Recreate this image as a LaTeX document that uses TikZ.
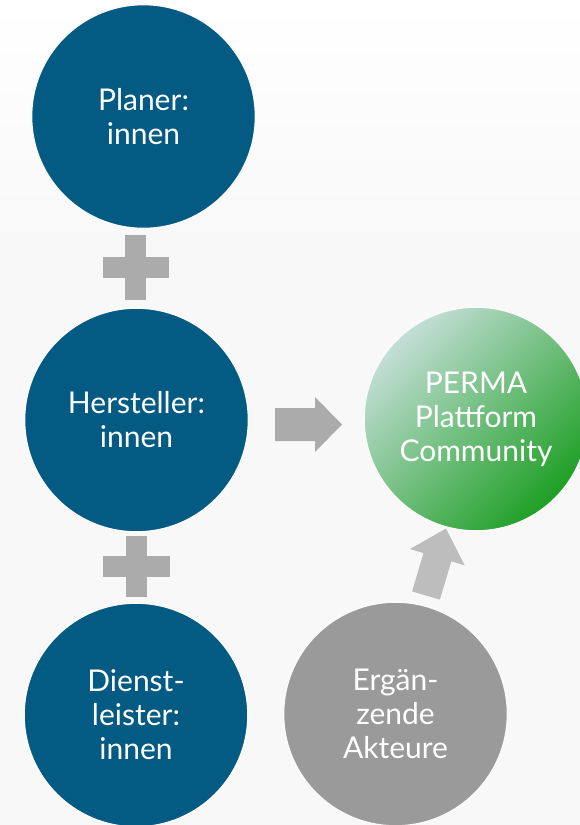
\documentclass[tikz,border=0pt]{standalone}
\usepackage{fontspec}
\setmainfont{Lato}
\usetikzlibrary{positioning}
\definecolor{bluec}{HTML}{035A82}
\definecolor{grayc}{HTML}{9A9A9A}
\definecolor{plusc}{HTML}{ABABAB}
\definecolor{arrowc}{HTML}{ABABAB}
\definecolor{arrowlc}{HTML}{BDBDBD}
\definecolor{greenA}{HTML}{C4DED8}
\definecolor{greenB}{HTML}{6EC070}
\definecolor{greenC}{HTML}{1E9F24}
\definecolor{bgc}{HTML}{F8F8F8}
\tikzset{
  bubble/.style={circle, minimum size=168pt, inner sep=0pt, draw=white!96!gray, line width=1.2pt,
    text=white, align=center, font=\fontsize{22.5}{25.5}\selectfont},
  bluebubble/.style={bubble, fill=bluec},
  graybubble/.style={bubble, fill=grayc},
  greenbubble/.style={bubble, top color=greenA, middle color=greenB, bottom color=greenC, shading angle=45},
  plusshape/.style={fill=plusc, draw=none},
  arrowshape/.style={fill=arrowc, draw=none},
  arrowlight/.style={fill=arrowlc, draw=none}
}
\begin{document}
\begin{tikzpicture}[x=0.75pt, y=-0.75pt]
\useasboundingbox (0,0) rectangle (580,825);
\clip (0,0) rectangle (580,825);
\shade[top color=white, bottom color=bgc] (0,0) rectangle (580,250);
\fill[bgc] (0,249) rectangle (580,825);

\node[bluebubble] (planer) at (143.5,116.5) {Planer:\\innen};
\node[bluebubble] (hersteller) at (136.5,420) {Hersteller:\\innen};
\node[bluebubble] (dienst) at (136,715) {Dienst-\\leister:\\innen};
\node[greenbubble] (perma) at (476,419) {PERMA\\Plattform\\Community};
\node[graybubble] (ergaenzend) at (395.5,714) {Ergän-\\zende\\Akteure};

% plus signs
\coordinate (p1) at (135.5,267.5);
\fill[plusshape] ([shift={(-10.5,-32.5)}]p1) rectangle ([shift={(10.5,32.5)}]p1);
\fill[plusshape] ([shift={(-33,-10.5)}]p1) rectangle ([shift={(33,10.5)}]p1);
\coordinate (p2) at (136.5,566);
\fill[plusshape] ([shift={(-10.5,-30.5)}]p2) rectangle ([shift={(10.5,30.5)}]p2);
\fill[plusshape] ([shift={(-33.5,-10.5)}]p2) rectangle ([shift={(33.5,10.5)}]p2);

% right arrow
\coordinate (a1) at (275,424.5);
\fill[arrowshape] ([shift={(0,-16.5)}]a1) -- ([shift={(40,-16.5)}]a1) -- ([shift={(40,-27.5)}]a1)
  -- ([shift={(67,0)}]a1) -- ([shift={(40,27.5)}]a1) -- ([shift={(40,16.5)}]a1) -- ([shift={(0,16.5)}]a1) -- cycle;

% up-right arrow
\fill[arrowlight] (412.1,591.4) -- (423.5,553.1) -- (410.1,549.0) -- (446.0,528.5)
  -- (464.7,565.4) -- (451.3,561.3) -- (439.9,599.6) -- cycle;
\end{tikzpicture}
\end{document}
